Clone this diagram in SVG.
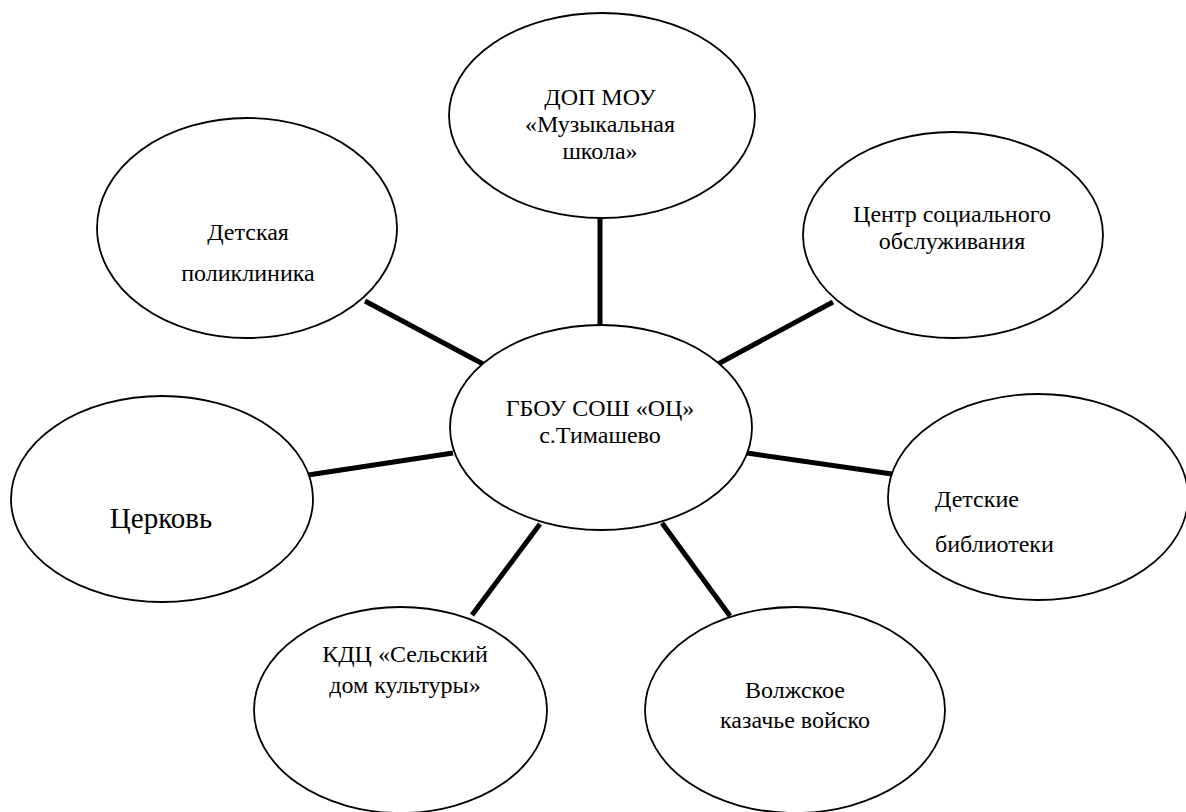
<svg xmlns="http://www.w3.org/2000/svg" width="1186" height="812" viewBox="0 0 1186 812">
<style>
.node ellipse{fill:#fff;stroke:#000;stroke-width:1.8}
.node text{font-family:"Liberation Serif","DejaVu Serif","Times New Roman",serif;font-size:24px;fill:#000;text-anchor:middle}
.conn line{stroke:#000;stroke-width:5}
</style>
<rect width="1186" height="812" fill="#fff"/>
<g class="conn" id="connectors">
<line x1="600" y1="218" x2="600" y2="326"/>
<line x1="365" y1="301" x2="483" y2="364"/>
<line x1="833" y1="302" x2="718" y2="364"/>
<line x1="308" y1="475" x2="453" y2="453"/>
<line x1="747" y1="453" x2="892" y2="474"/>
<line x1="540" y1="524" x2="472" y2="615"/>
<line x1="662" y1="523" x2="730" y2="616"/>
</g>
<g class="node" id="node-music">
<ellipse cx="602" cy="115.5" rx="153" ry="102.5"/>
<text x="600" y="105" font-family="Liberation Serif, DejaVu Serif, serif">ДОП МОУ</text>
<text x="600" y="132" font-family="Liberation Serif, DejaVu Serif, serif">«Музыкальная</text>
<text x="600" y="159" font-family="Liberation Serif, DejaVu Serif, serif">школа»</text>
</g>
<g class="node" id="node-clinic">
<ellipse cx="247" cy="228" rx="150" ry="110"/>
<text x="248" y="240" font-family="Liberation Serif, DejaVu Serif, serif">Детская</text>
<text x="248" y="281" font-family="Liberation Serif, DejaVu Serif, serif">поликлиника</text>
</g>
<g class="node" id="node-social">
<ellipse cx="953" cy="235" rx="150" ry="103"/>
<text x="952" y="222" font-family="Liberation Serif, DejaVu Serif, serif">Центр социального</text>
<text x="952" y="249" font-family="Liberation Serif, DejaVu Serif, serif">обслуживания</text>
</g>
<g class="node" id="node-center">
<ellipse cx="601" cy="427.5" rx="151" ry="102.5"/>
<text x="600" y="416" font-family="Liberation Serif, DejaVu Serif, serif">ГБОУ СОШ «ОЦ»</text>
<text x="600" y="443" font-family="Liberation Serif, DejaVu Serif, serif">с.Тимашево</text>
</g>
<g class="node" id="node-church">
<ellipse cx="162" cy="499" rx="151" ry="103"/>
<text x="161" y="528" font-family="Liberation Serif, DejaVu Serif, serif" style="font-size:29px">Церковь</text>
</g>
<g class="node" id="node-library">
<ellipse cx="1038" cy="497" rx="150" ry="103"/>
<text x="935" y="507" font-family="Liberation Serif, DejaVu Serif, serif" style="text-anchor:start">Детские</text>
<text x="935" y="552" font-family="Liberation Serif, DejaVu Serif, serif" style="text-anchor:start">библиотеки</text>
</g>
<g class="node" id="node-culture">
<ellipse cx="400.5" cy="710" rx="146.5" ry="103"/>
<text x="405" y="662" font-family="Liberation Serif, DejaVu Serif, serif">КДЦ «Сельский</text>
<text x="405" y="693" font-family="Liberation Serif, DejaVu Serif, serif">дом культуры»</text>
</g>
<g class="node" id="node-cossack">
<ellipse cx="795" cy="710" rx="150" ry="103"/>
<text x="795" y="698" font-family="Liberation Serif, DejaVu Serif, serif">Волжское</text>
<text x="795" y="728" font-family="Liberation Serif, DejaVu Serif, serif">казачье войско</text>
</g>
</svg>
